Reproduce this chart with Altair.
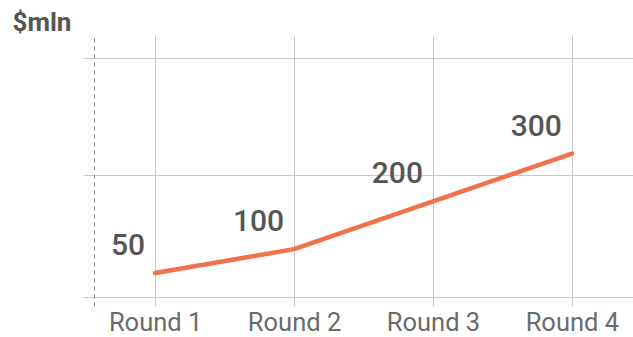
import altair as alt
import pandas as pd

# Funding raised per round, in $ millions
rounds = ["Round 1", "Round 2", "Round 3", "Round 4"]
amounts = [50, 100, 200, 300]

# Horizontal reference lines on the value axis
grid_values = [0, 255, 500]

df = pd.DataFrame({"round": rounds, "amount": amounts})

FONT = "Roboto"
GRID = "#c8c8c8"

x_enc = alt.X(
    "round:N",
    sort=rounds,
    scale=alt.Scale(type="point", padding=0.44),
    axis=alt.Axis(
        title=None,
        grid=True,
        gridColor=GRID,
        gridWidth=1,
        domain=False,
        ticks=False,
        labelFont=FONT,
        labelFontSize=25.5,
        labelColor="#6b6b6b",
        labelPadding=4,
        labelAngle=0,
    ),
)

y_enc = alt.Y(
    "amount:Q",
    scale=alt.Scale(domain=[-19, 546], nice=False, zero=False),
    axis=alt.Axis(
        values=grid_values,
        labels=False,
        grid=True,
        gridColor=GRID,
        gridWidth=1,
        ticks=True,
        tickSize=11,
        tickColor=GRID,
        domain=True,
        domainColor="#8a8a8a",
        domainDash=[4, 4],
        domainWidth=1,
        title="$mln",
        titleAngle=0,
        titleAlign="left",
        titleBaseline="alphabetic",
        titleX=-82,
        titleY=-6,
        titleFont=FONT,
        titleFontSize=26,
        titleFontWeight="bold",
        titleColor="#555555",
    ),
)

line = alt.Chart(df).mark_line(
    color="#f2704a", strokeWidth=4.5, strokeCap="round", strokeJoin="round"
).encode(x=x_enc, y=y_enc)

# Value labels sit above-left of each point; they reuse the line's scales
labels = alt.Chart(df).mark_text(
    align="right",
    baseline="alphabetic",
    dx=-10,
    dy=-18,
    font=FONT,
    fontSize=30,
    fontWeight=500,
    color="#555555",
).encode(x=alt.X("round:N", sort=rounds), y="amount:Q", text="amount:Q")

chart = (
    alt.layer(line, labels)
    .properties(
        width=539,
        height=270,
        background="white",
        padding={"left": 94, "top": 36, "right": 0, "bottom": 31},
        autosize=alt.AutoSizeParams(type="none"),
    )
    .configure_view(strokeWidth=0, stroke="transparent")
)

chart.save("out.html", embed_options={"renderer": "svg", "actions": False})
